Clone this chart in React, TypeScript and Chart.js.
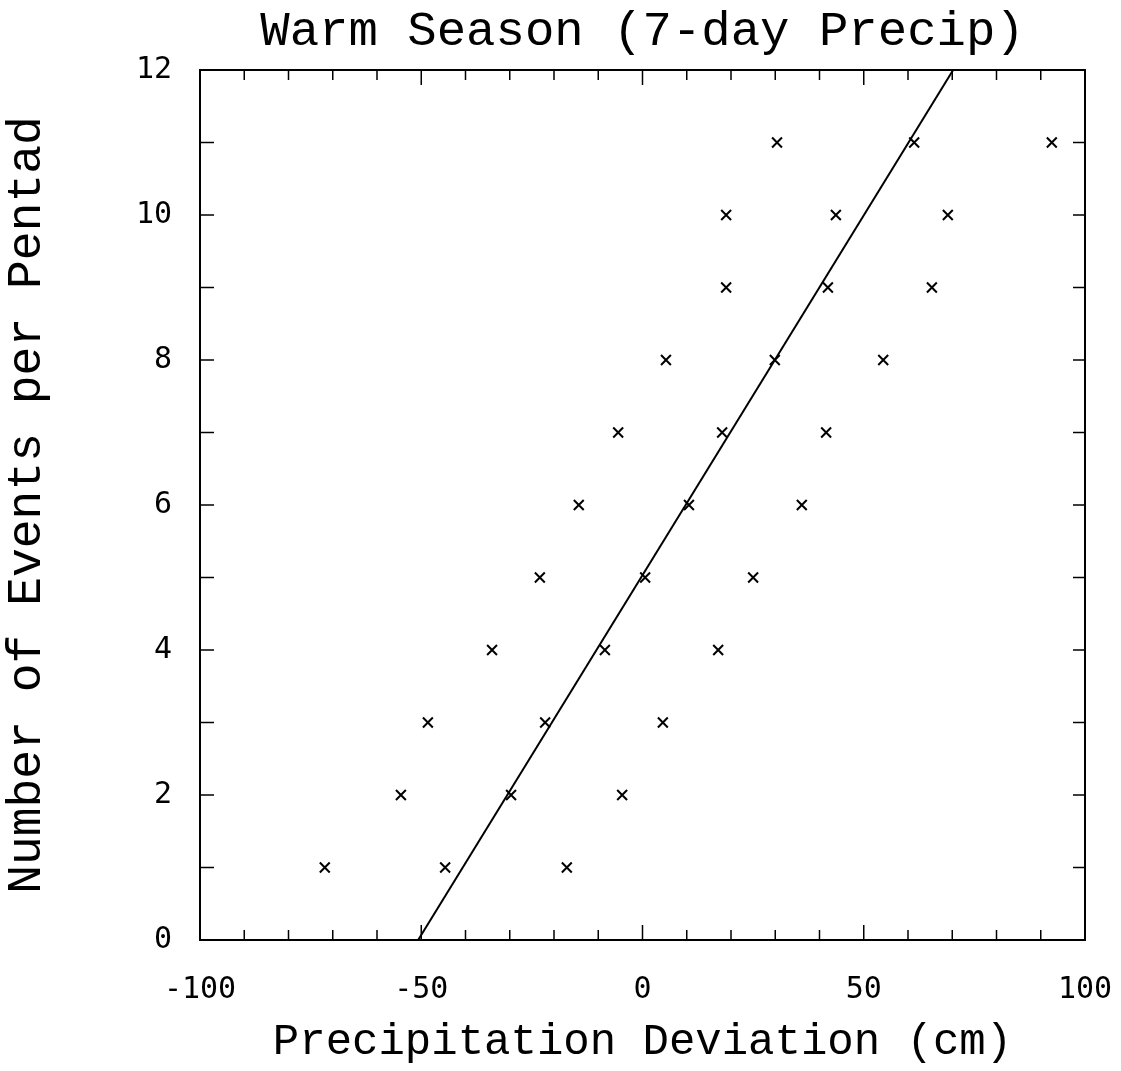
import React, { useEffect, useRef } from "react";
import { Chart, registerables } from "chart.js";

Chart.register(...registerables);

// Scatter points: precipitation deviation (cm) vs number of events per pentad
const pointX = [
  -71.8, -44.6, -17.1,
  -54.6, -29.7, -4.6,
  -48.5, -22.0, 4.6,
  -34.0, -8.5, 17.1,
  -23.2, 0.6, 25.0,
  -14.4, 10.5, 36.0,
  -5.5, 18.0, 41.5,
  5.3, 29.9, 54.4,
  18.9, 41.9, 65.4,
  18.9, 43.7, 69.0,
  30.4, 61.4, 92.5,
];
const pointY = [
  1, 1, 1,
  2, 2, 2,
  3, 3, 3,
  4, 4, 4,
  5, 5, 5,
  6, 6, 6,
  7, 7, 7,
  8, 8, 8,
  9, 9, 9,
  10, 10, 10,
  11, 11, 11,
];

// Regression line end points
const fitX = [-50.7, 70.2];
const fitY = [0, 12];

const xTickValues = [-100, -50, 0, 50, 100];
const yTickValues = [0, 2, 4, 6, 8, 10, 12];

const titleText = "Warm Season (7-day Precip)";
const xTitle = "Precipitation Deviation (cm)";
const yTitle = "Number of Events per Pentad";

const serifMono = "'Liberation Mono', 'Courier New', monospace";
const tickFont = "'DejaVu Sans Mono', monospace";

const frameTicks = {
  id: "frameTicks",
  afterDatasetsDraw(chart: any) {
    const { ctx, chartArea, scales } = chart;
    const { left, right, top, bottom } = chartArea;
    const x = scales.x;
    const y = scales.y;
    ctx.save();
    ctx.strokeStyle = "#000";
    ctx.lineWidth = 2;
    ctx.strokeRect(left, top, right - left, bottom - top);
    ctx.lineWidth = 1.5;
    ctx.beginPath();
    for (let v = -100; v <= 100; v += 10) {
      const px = x.getPixelForValue(v);
      const len = v % 50 === 0 ? 15 : 10;
      ctx.moveTo(px, bottom);
      ctx.lineTo(px, bottom - len);
      ctx.moveTo(px, top);
      ctx.lineTo(px, top + len);
    }
    for (let v = 0; v <= 12; v += 1) {
      const py = y.getPixelForValue(v);
      ctx.moveTo(left, py);
      ctx.lineTo(left + 14, py);
      ctx.moveTo(right, py);
      ctx.lineTo(right - 12, py);
    }
    ctx.stroke();
    ctx.restore();
  },
};

export default function App() {
  const canvasRef = useRef<HTMLCanvasElement | null>(null);

  useEffect(() => {
    if (!canvasRef.current) return;
    const points = pointX.map((v, i) => ({ x: v, y: pointY[i] }));
    const fit = fitX.map((v, i) => ({ x: v, y: fitY[i] }));
    const chart = new Chart(canvasRef.current, {
      type: "scatter",
      data: {
        datasets: [
          {
            label: "events",
            data: points,
            pointStyle: "crossRot",
            pointRadius: 7,
            pointBorderWidth: 2,
            borderColor: "#000",
            backgroundColor: "#000",
            showLine: false,
          },
          {
            label: "fit",
            data: fit,
            showLine: true,
            borderColor: "#000",
            borderWidth: 2,
            pointRadius: 0,
            fill: false,
          },
        ],
      },
      options: {
        animation: false,
        responsive: true,
        maintainAspectRatio: false,
        layout: { padding: { left: 0, right: 36, top: 0, bottom: 0 } },
        plugins: {
          legend: { display: false },
          tooltip: { enabled: false },
          title: {
            display: true,
            text: titleText,
            color: "#000",
            fullSize: false,
            font: { family: serifMono, size: 49, weight: "normal", lineHeight: 1 },
            padding: { top: 8, bottom: 13 },
          },
        },
        scales: {
          x: {
            type: "linear",
            min: -100,
            max: 100,
            grid: { display: false, drawTicks: false },
            border: { display: false },
            afterBuildTicks: (scale: any) => {
              scale.ticks = xTickValues.map((v) => ({ value: v }));
            },
            afterFit: (scale: any) => {
              scale.height = 131;
              scale.paddingLeft = 0;
              scale.paddingRight = 0;
            },
            ticks: {
              color: "#000",
              padding: 32,
              maxRotation: 0,
              font: { family: tickFont, size: 30 },
            },
            title: {
              display: true,
              text: xTitle,
              color: "#000",
              font: { family: serifMono, size: 44, lineHeight: 1 },
              padding: { top: 0, bottom: 7 },
            },
          },
          y: {
            type: "linear",
            min: 0,
            max: 12,
            grid: { display: false, drawTicks: false },
            border: { display: false },
            afterBuildTicks: (scale: any) => {
              scale.ticks = yTickValues.map((v) => ({ value: v }));
            },
            afterFit: (scale: any) => {
              scale.width = 200;
              scale.paddingTop = 0;
              scale.paddingBottom = 0;
            },
            ticks: {
              color: "#000",
              padding: 28,
              font: { family: tickFont, size: 30 },
            },
            title: {
              display: true,
              text: yTitle,
              color: "#000",
              font: { family: serifMono, size: 48, lineHeight: 1 },
              padding: { top: 3, bottom: 0 },
            },
          },
        },
      },
      plugins: [frameTicks],
    } as any);
    return () => chart.destroy();
  }, []);

  return (
    <div
      style={{
        position: "fixed",
        left: 0,
        top: 0,
        width: 1121,
        height: 1071,
        background: "#fff",
      }}
    >
      <canvas ref={canvasRef} />
    </div>
  );
}
